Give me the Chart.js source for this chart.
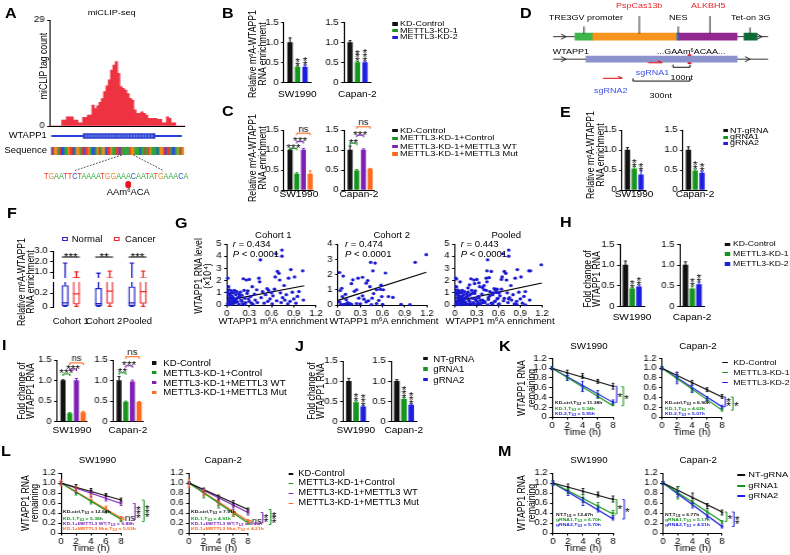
<!DOCTYPE html>
<html>
<head>
<meta charset="utf-8">
<title>WTAPP1 m6A figure</title>
<script src="https://cdn.jsdelivr.net/npm/chart.js@4.4.1/dist/chart.umd.min.js"></script>
<style>
  html, body { margin: 0; padding: 0; background: #fff; overflow: hidden; }
  #fig { position: relative; width: 687px; height: 555px; transform: scaleX(1.15); transform-origin: 0 0;
         font-family: 'Liberation Sans', Arial, sans-serif; color: #000; }
  #fig canvas { position: absolute; left: 0; top: 0; }
  #fig svg { position: absolute; left: 0; top: 0; }
  .t { position: absolute; white-space: nowrap; line-height: 1; text-align: center; }
  .sup { font-size: 0.62em; vertical-align: 0.5em; line-height: 0; }
  .sub { font-size: 0.7em; vertical-align: -0.25em; line-height: 0; }
</style>
</head>
<body>
<div id="fig"></div>
<script>
// ---------------- data ----------------
// A: miCLIP tag count per bin, gene model (in bin units), sequence
const clipCounts = [0, 0, 0, 0, 0, 1.6, 1.6, 2.5, 2.5, 2.5, 1.6, 1.6, 0.9, 0.9, 2.4,
  2.4, 3.0, 3.0, 5.7, 4.8, 5.5, 6.5, 7.5, 9.4, 11.0, 12.6, 15.3, 16.7, 17.6, 14.4,
  10.8, 10.3, 9.8, 8.9, 7.6, 7.1, 4.4, 3.5, 3.5, 3.9, 3.5, 3.0, 2.1, 2.1, 2.1,
  2.1, 1.8, 1.8, 0.9, 0.9, 2.5, 2.1, 0.9, 0.9, 0, 0, 0, 0];
const clipTicks = [0, 29];
const geneSpan = [0.7, 56.5];
const exonSpan = [14.3, 45.1];
const stripSeq = 'CTGGATCCAAGTTCAGGATCTTGACCAGTAGGCTTGAATTCTAAAATGGAAACAATATGAAACAGGTCTTACCAGATG';
const motifSeq = 'TGAATTCTAAAATGGAAACAATATGAAACA';

// shared labels
const cellLines = ['SW1990', 'Capan-2'];
const kdLabels = ['KD-Control', 'METTL3-KD-1', 'METTL3-KD-2'];
const rescueLabels = ['KD-Control', 'METTL3-KD-1+Control', 'METTL3-KD-1+METTL3 WT', 'METTL3-KD-1+METTL3 Mut'];
const grnaLabels = ['NT-gRNA', 'gRNA1', 'gRNA2'];

// B: m6A enrichment after METTL3 knockdown
const bSW = [1.0, 0.39, 0.39], bSWsd = [0.12, 0.03, 0.05], bSWstars = [0, 2, 2];
const bCap = [1.0, 0.5, 0.5], bCapSd = [0.05, 0.03, 0.04], bCapStars = [0, 3, 3];
// C: rescue
const cSW = [1.0, 0.4, 1.0, 0.4], cSWsd = [0.02, 0.03, 0.04, 0.08];
const cCap = [1.0, 0.48, 1.0, 0.52], cCapSd = [0.1, 0.03, 0.03, 0.02];
const cSWsig = [[1, 2, 1.04, '***'], [2, 3, 1.21, '***'], [2, 4, 1.42, 'ns']];
const cCapSig = [[1, 2, 1.17, '**'], [2, 3, 1.37, '***'], [2, 4, 1.58, 'ns']];
// D: construct / transcript segments (schematic units)
const dStart = [22, 40, 124, 126, 191];
const dEnd = [40, 124, 126, 184, 204];
const wtappBox = [33, 184];
const m6aSite = [135, 138];
const sg1 = [95, 109], sg2 = [50, 69];
const nt100 = [120, 137], nt300 = [80, 137];
// E: dm6ACRISPR
const eSW = [1.0, 0.53, 0.38], eSWsd = [0.06, 0.05, 0.1], eSWstars = [0, 2, 2];
const eCap = [1.0, 0.48, 0.42], eCapSd = [0.08, 0.04, 0.05], eCapStars = [0, 2, 2];
// F: box plots (Normal / Cancer)
const fGroups = ['Cohort 1', 'Cohort 2', 'Pooled'];
const normMin = [0.005, 0.005, 0.005], normQ1 = [0.02, 0.02, 0.02], normMed = [0.06, 0.05, 0.06], normQ3 = [0.31, 0.27, 0.29], normMax = [1.85, 0.9, 1.85];
const cancMin = [0.01, 0.01, 0.01], cancQ1 = [0.04, 0.05, 0.05], cancMed = [0.19, 0.23, 0.22], cancQ3 = [0.52, 0.48, 0.5], cancMax = [1.03, 1.1, 1.1];
const fSig = ['***', '**', '***'];
// G: scatter (m6A enrichment, RNA level x1e-4)
const cohort1 = [[0.01, 2.2], [0.02, 1.5], [0.03, 1.25], [0.01, 1.05], [0.02, 0.9], [0.04, 0.8], [0.03, 0.6], [0.05, 0.5],
  [0.02, 0.35], [0.04, 0.2], [0.01, 0.1], [0.06, 0.05], [0.03, 0.02], [0.08, 0.3], [0.07, 0.7], [0.09, 1.0], [0.1, 0.15],
  [0.11, 0.45], [0.12, 0.85], [0.13, 1.1], [0.14, 0.25], [0.15, 0.6], [0.16, 0.05], [0.18, 1.05], [0.19, 0.4], [0.2, 0.8],
  [0.21, 0.1], [0.22, 2.15], [0.23, 1.2], [0.24, 0.55], [0.25, 0.2], [0.26, 2.05], [0.27, 0.95], [0.28, 1.15], [0.3, 2.1],
  [0.3, 0.3], [0.32, 0.7], [0.34, 1.5], [0.35, 0.05], [0.37, 0.9], [0.38, 0.4], [0.4, 1.25], [0.41, 0.2], [0.43, 2.2],
  [0.44, 1.9], [0.45, 3.7], [0.46, 0.6], [0.48, 1.1], [0.5, 0.15], [0.52, 0.85], [0.54, 1.35], [0.55, 0.3], [0.56, 1.2],
  [0.58, 0.5], [0.6, 1.0], [0.61, 0.1], [0.62, 0.75], [0.64, 1.3], [0.65, 2.3], [0.66, 4.2], [0.67, 0.35], [0.68, 2.75],
  [0.7, 2.6], [0.71, 2.05], [0.72, 1.0], [0.73, 0.2], [0.74, 4.5], [0.74, 4.0], [0.75, 0.6], [0.77, 1.6], [0.78, 0.4],
  [0.8, 0.85], [0.82, 0.1], [0.83, 2.2], [0.85, 0.3], [0.86, 2.9], [0.88, 1.05], [0.9, 0.5], [0.91, 2.3], [0.93, 0.15],
  [0.95, 0.7], [0.97, 1.1], [1.02, 2.8], [1.03, 0.4], [0.08, 0.6], [0.05, 0.95], [0.12, 0.3], [0.17, 0.7], [0.06, 1.15],
  [0.1, 1.2], [0.02, 0.05], [0.05, 0.25], [0.07, 0.15], [0.09, 0.4], [0.13, 0.55], [0.16, 0.9], [0.2, 0.3], [0.24, 0.05],
  [0.29, 0.5], [0.33, 0.15]];
const cohort2 = [[0.02, 2.13], [0.07, 1.9], [0.05, 1.1], [0.03, 0.95], [0.06, 0.55], [0.11, 0.35], [0.02, 0.2], [0.04, 0.05],
  [0.08, 0.02], [0.12, 0.1], [0.15, 0.05], [0.2, 1.65], [0.25, 1.0], [0.27, 1.76], [0.33, 1.82], [0.38, 1.43], [0.43, 1.2],
  [0.44, 2.8], [0.5, 2.75], [0.47, 2.24], [0.52, 1.0], [0.57, 1.03], [0.61, 1.0], [0.64, 2.1], [0.68, 0.55], [0.74, 0.5],
  [0.59, 0.55], [0.52, 0.1], [0.38, 0.2], [0.25, 0.1], [0.16, 0.1], [0.97, 0.02], [1.04, 2.8], [1.19, 3.3], [0.09, 0.05],
  [0.13, 0.15], [0.18, 0.05], [0.3, 0.08], [0.35, 0.38], [0.41, 0.28], [0.46, 0.45], [0.1, 0.7], [0.22, 0.9], [0.28, 0.45],
  [0.55, 0.3], [0.6, 0.05], [0.45, 0.02], [0.33, 0.6], [0.18, 1.4], [0.4, 1.6], [0.58, 1.3], [0.48, 0.75], [0.85, 0.05]];
const pooled = cohort1.concat(cohort2);
const g1Fit = [0.38, 1.04, 1.58], g2Fit = [0.3, 1.19, 2.15], gpFit = [0.3, 1.2, 1.8]; // intercept, x end, y end
// H: RNA level after knockdown
const hSW = [1.0, 0.43, 0.48], hSWsd = [0.1, 0.02, 0.04], hSWstars = [0, 2, 2];
const hCap = [1.0, 0.43, 0.53], hCapSd = [0.08, 0.06, 0.06], hCapStars = [0, 2, 2];
// I: rescue RNA level
const iSW = [1.0, 0.2, 1.0, 0.22], iSWsd = [0.02, 0.02, 0.05, 0.03];
const iCap = [1.0, 0.48, 0.97, 0.47], iCapSd = [0.1, 0.02, 0.04, 0.02];
const iSWsig = [[1, 2, 1.16, '***'], [2, 3, 1.28, '***'], [2, 4, 1.43, 'ns']];
const iCapSig = [[1, 2, 1.19, '**'], [2, 3, 1.36, '***'], [2, 4, 1.58, 'ns']];
// J: gRNA RNA level
const jSW = [1.0, 0.47, 0.37], jSWsd = [0.07, 0.04, 0.02], jSWstars = [0, 2, 3];
const jCap = [1.0, 0.55, 0.41], jCapSd = [0.04, 0.04, 0.03], jCapStars = [0, 3, 3];
// K-M: RNA decay, time points in h
const times = [0, 2, 4, 6, 8];
const kSWctl = [1, 0.9, 0.84, 0.73, 0.63], kSWctlSd = [0.03, 0.06, 0.05, 0.04, 0.06];
const kSWkd1 = [1, 0.8, 0.58, 0.43, 0.26], kSWkd1Sd = [0.03, 0.05, 0.06, 0.05, 0.03];
const kSWkd2 = [1, 0.8, 0.63, 0.47, 0.31], kSWkd2Sd = [0.03, 0.05, 0.1, 0.07, 0.04];
const kSWfit = [0.63, 0.23, 0.3];
const kCapCtl = [1, 0.86, 0.7, 0.56, 0.42], kCapCtlSd = [0.03, 0.05, 0.05, 0.04, 0.04];
const kCapKd1 = [1, 0.78, 0.55, 0.35, 0.15], kCapKd1Sd = [0.03, 0.06, 0.05, 0.04, 0.03];
const kCapKd2 = [1, 0.8, 0.58, 0.38, 0.21], kCapKd2Sd = [0.03, 0.12, 0.07, 0.04, 0.03];
const kCapFit = [0.41, 0.14, 0.21];
const lSWctl = [1, 0.93, 0.85, 0.76, 0.66], lSWctlSd = [0.03, 0.04, 0.04, 0.03, 0.04];
const lSWkd = [1, 0.79, 0.62, 0.43, 0.26], lSWkdSd = [0.03, 0.03, 0.04, 0.03, 0.03];
const lSWwt = [1, 0.85, 0.77, 0.68, 0.59], lSWwtSd = [0.03, 0.04, 0.05, 0.04, 0.04];
const lSWmut = [1, 0.88, 0.72, 0.5, 0.3], lSWmutSd = [0.06, 0.05, 0.05, 0.04, 0.03];
const lSWfit = [0.66, 0.27, 0.59, 0.3];
const lCapCtl = [1, 0.86, 0.7, 0.6, 0.46], lCapCtlSd = [0.03, 0.04, 0.06, 0.05, 0.04];
const lCapKd = [1, 0.75, 0.55, 0.37, 0.2], lCapKdSd = [0.03, 0.05, 0.05, 0.04, 0.03];
const lCapWt = [1, 0.84, 0.66, 0.52, 0.4], lCapWtSd = [0.03, 0.04, 0.05, 0.05, 0.04];
const lCapMut = [1, 0.8, 0.6, 0.38, 0.24], lCapMutSd = [0.08, 0.06, 0.04, 0.04, 0.03];
const lCapFit = [0.47, 0.2, 0.41, 0.24];
const mSWnt = [1, 0.92, 0.83, 0.77, 0.68], mSWntSd = [0.04, 0.06, 0.06, 0.05, 0.06];
const mSWg1 = [1, 0.84, 0.69, 0.55, 0.4], mSWg1Sd = [0.04, 0.05, 0.08, 0.06, 0.05];
const mSWg2 = [1, 0.8, 0.63, 0.47, 0.3], mSWg2Sd = [0.04, 0.05, 0.08, 0.05, 0.04];
const mSWfit = [0.67, 0.38, 0.28];
const mCapNt = [1, 0.85, 0.7, 0.54, 0.41], mCapNtSd = [0.03, 0.08, 0.1, 0.05, 0.05];
const mCapG1 = [1, 0.8, 0.6, 0.42, 0.22], mCapG1Sd = [0.03, 0.12, 0.05, 0.04, 0.03];
const mCapG2 = [1, 0.78, 0.55, 0.32, 0.13], mCapG2Sd = [0.03, 0.06, 0.05, 0.04, 0.03];
const mCapFit = [0.42, 0.23, 0.13];

// ---------------- setup ----------------
const SX = 1.15, CW = 687, CH = 555;
const FONT = "'Liberation Sans', Arial, sans-serif";
const sx = v => v / SX;
const fig = document.getElementById('fig');

const BLACK = '#111111', GREEN = '#16951e', BLUE = '#1e1ee0', PURPLE = '#7f22b4', ORANGE = '#ff6a1f', RED = '#ee3342';
const C3 = [BLACK, GREEN, BLUE], C4 = [BLACK, GREEN, PURPLE, ORANGE];
const NORM = '#2525c8', CANC = '#ee2b2b', DOT = '#1a1ad0', SGBLUE = '#3b4fe6';

Chart.defaults.font.family = FONT;
Chart.defaults.font.size = 8.3;
Chart.defaults.color = '#000';
Chart.defaults.animation = false;
Chart.defaults.events = [];
Chart.defaults.plugins.legend.display = false;
Chart.defaults.plugins.tooltip.enabled = false;

function make(cfg, area, yW, xH) {
  const o = cfg.options;
  o.responsive = false;
  o.devicePixelRatio = 1;
  o.layout = { padding: { left: sx(area[0]) - yW, top: area[1], right: CW - sx(area[2]), bottom: CH - area[3] - xH } };
  o.scales.x.afterFit = s => { s.height = xH; };
  o.scales.y.afterFit = s => { s.width = yW; };
  const c = document.createElement('canvas');
  c.width = CW; c.height = CH;
  c.style.width = CW + 'px'; c.style.height = CH + 'px';
  fig.appendChild(c);
  return new Chart(c, cfg);
}

function T(x, y, html, o) {
  o = o || {};
  const d = document.createElement('div');
  d.className = 't';
  d.innerHTML = html;
  d.style.left = sx(x) + 'px';
  d.style.top = y + 'px';
  d.style.fontSize = (o.s || 8) + 'px';
  if (o.c) d.style.color = o.c;
  if (o.b) d.style.fontWeight = 'bold';
  if (o.lh) d.style.lineHeight = o.lh;
  let tr = o.a === 'c' ? 'translate(-50%,-50%)' : o.a === 'r' ? 'translate(-100%,-50%)' : 'translate(0,-50%)';
  if (o.rot) tr += ' rotate(-90deg)';
  if (o.scx) tr += ' scaleX(' + o.scx + ')';
  d.style.transform = tr;
  fig.appendChild(d);
  return d;
}

function box(x, y, w, h, css) {
  const d = document.createElement('div');
  d.style.cssText = 'position:absolute;left:' + sx(x) + 'px;top:' + y + 'px;width:' + sx(w) + 'px;height:' + h + 'px;' + css;
  fig.appendChild(d);
}

function legend(xm, wm, xt, ys, labels, colors, kind, size) {
  labels.forEach((lab, i) => {
    const h = kind === 'line' ? 1.4 : 3.4;
    box(xm, ys[i] - h / 2, wm, h, 'background:' + colors[i]);
    T(xt, ys[i], lab, { s: size });
  });
}

const f1 = v => (v === 0 ? '0' : v.toFixed(1));
function yAxis(min, max, step, fmt, vals) {
  const ax = {
    type: 'linear', min, max,
    ticks: { stepSize: step, autoSkip: false, padding: 2.2, color: '#000', callback: fmt || f1 },
    grid: { drawOnChartArea: false, tickLength: 2.5, color: '#000', lineWidth: 1 },
    border: { color: '#000', width: 1 }
  };
  if (vals) ax.afterBuildTicks = s => { s.ticks = vals.map(v => ({ value: v })); };
  return ax;
}

function ln(ctx, x1, y1, x2, y2, c, w) {
  ctx.beginPath(); ctx.moveTo(x1, y1); ctx.lineTo(x2, y2);
  ctx.strokeStyle = c; ctx.lineWidth = w || 1; ctx.stroke();
}
function starStack(ctx, x, yBottom, n) {
  ctx.font = '10.5px ' + FONT; ctx.fillStyle = '#000'; ctx.textAlign = 'center'; ctx.textBaseline = 'alphabetic';
  for (let k = 0; k < n; k++) ctx.fillText('*', x, yBottom + 4.5 - k * 3.8);
}
function sigText(ctx, s, x, yBottom) {
  ctx.fillStyle = '#000'; ctx.textAlign = 'center'; ctx.textBaseline = 'alphabetic';
  if (s === 'ns') { ctx.font = '8.2px ' + FONT; ctx.fillText(s, x, yBottom - 0.6); }
  else { ctx.font = '10.5px ' + FONT; ctx.fillText(s, x, yBottom + 4.3); }
}
function vBracket(ctx, xr, y1, y2, color, txt) {
  ln(ctx, xr, y1, xr, y2, color, 1);
  ln(ctx, xr - sx(2), y1, xr, y1, color, 1);
  ln(ctx, xr - sx(2), y2, xr, y2, color, 1);
  const mid = (y1 + y2) / 2;
  if (txt === 'ns') {
    ctx.font = '8.2px ' + FONT; ctx.fillStyle = '#000'; ctx.textAlign = 'left'; ctx.textBaseline = 'middle';
    ctx.fillText('ns', xr + 0.8, mid);
  } else {
    starStack(ctx, xr + sx(3.2), mid + txt.length * 1.9, txt.length);
  }
}

// ---------------- bar panels (B, C, E, H, I, J) ----------------
function barPanel(area, vals, sds, colors, stars, sig, title, titleY, bw) {
  const n = vals.length;
  const cfg = {
    type: 'bar',
    data: { datasets: [{ data: vals.map((v, i) => ({ x: i + 1, y: v })), backgroundColor: colors, barThickness: sx(bw), borderWidth: 0 }] },
    options: { scales: {
      x: { type: 'linear', offset: false, min: n === 4 ? 0.1 : 0.2, max: n === 4 ? 4.55 : 3.75,
           ticks: { display: false }, grid: { display: false }, border: { color: '#000' } },
      y: yAxis(0, 1.5, 0.5)
    } },
    plugins: [{ id: 'barDeco', afterDatasetsDraw(ch) {
      const ctx = ch.ctx, X = ch.scales.x, Y = ch.scales.y;
      ctx.save();
      vals.forEach((v, i) => {
        const x = X.getPixelForValue(i + 1), y0 = Y.getPixelForValue(v), y1 = Y.getPixelForValue(v + sds[i]);
        ln(ctx, x, y0, x, y1, colors[i], 1);
        ln(ctx, x - 1.3, y1, x + 1.3, y1, colors[i], 1);
        if (stars[i]) starStack(ctx, x, y1 - 0.8, stars[i]);
      });
      sig.forEach(b => {
        const x1 = X.getPixelForValue(b[0]), x2 = X.getPixelForValue(b[1]), y = Y.getPixelForValue(b[2]);
        const c = colors[b[1] - 1];
        ln(ctx, x1, y, x2, y, c, 1.1);
        ln(ctx, x1, y, x1, y + 2, c, 1.1);
        ln(ctx, x2, y, x2, y + 2, c, 1.1);
        sigText(ctx, b[3], (x1 + x2) / 2, y - 0.8);
      });
      ctx.restore();
    } }]
  };
  T((area[0] + area[2]) / 2, titleY, title, { a: 'c', s: 8.8 });
  return make(cfg, area, 22, 0);
}

// ---------------- decay panels (K, L, M) ----------------
function decayPanel(area, means, sds, fits, colors, brackets, titleY) {
  const datasets = [];
  means.forEach((m, k) => {
    datasets.push({ type: 'line', data: [{ x: times[0], y: m[0] }, { x: times[times.length - 1], y: fits[k] }],
      borderColor: colors[k], borderWidth: 1.1, pointRadius: 0, clip: false });
    datasets.push({ type: 'scatter', data: times.map((t, i) => ({ x: t, y: m[i] })),
      pointRadius: 1.1, pointBackgroundColor: colors[k], pointBorderWidth: 0, clip: false });
  });
  const cfg = {
    type: 'scatter',
    data: { datasets },
    options: { scales: {
      x: { type: 'linear', min: 0, max: 8,
           ticks: { stepSize: 2, autoSkip: false, padding: 1, color: '#000', maxRotation: 0 },
           grid: { drawOnChartArea: false, tickLength: 2.5, color: '#000' },
           border: { color: '#000' },
           title: { display: true, text: 'Time (h)', padding: 0, font: { size: 8.8 }, color: '#000' } },
      y: yAxis(0, 1.2, 0.2)
    } },
    plugins: [{ id: 'decayDeco', afterDatasetsDraw(ch) {
      const ctx = ch.ctx, X = ch.scales.x, Y = ch.scales.y, ca = ch.chartArea;
      ctx.save();
      means.forEach((m, k) => m.forEach((v, i) => {
        const x = X.getPixelForValue(times[i]);
        const a = Y.getPixelForValue(v + sds[k][i]), b = Y.getPixelForValue(v - sds[k][i]);
        ln(ctx, x, a, x, b, colors[k], 0.9);
        ln(ctx, x - 1.2, a, x + 1.2, a, colors[k], 0.9);
        ln(ctx, x - 1.2, b, x + 1.2, b, colors[k], 0.9);
      }));
      brackets.forEach(v => vBracket(ctx, ca.right + sx(v[2]), Y.getPixelForValue(v[0]), Y.getPixelForValue(v[1]), v[3], v[4]));
      ctx.restore();
    } }]
  };
  return make(cfg, area, 22, titleY + 5.3 - area[3]);
}

// ---------------- scatter panels (G) ----------------
function scatterPanel(area, pts, yMax, fit) {
  const cfg = {
    type: 'scatter',
    data: { datasets: [
      { data: pts.map(p => ({ x: p[0], y: p[1] })), pointRadius: 1.6, pointBackgroundColor: DOT, pointBorderWidth: 0, clip: false },
      { type: 'line', data: [{ x: 0, y: fit[0] }, { x: fit[1], y: fit[2] }], borderColor: '#000', borderWidth: 1.2, pointRadius: 0 }
    ] },
    options: { scales: {
      x: { type: 'linear', min: 0, max: 1.2,
           ticks: { stepSize: 0.3, autoSkip: false, padding: 1, color: '#000', maxRotation: 0, callback: v => (v === 0 ? '0' : v.toFixed(1)) },
           grid: { drawOnChartArea: false, tickLength: 2.5, color: '#000' },
           border: { color: '#000' } },
      y: yAxis(0, yMax, 1, v => String(v))
    } }
  };
  T((area[0] + area[2]) / 2 + 1.5, 321, 'WTAPP1 m<span class="sup">6</span>A enrichment', { a: 'c', s: 8.4 });
  return make(cfg, area, 22, 14);
}

// ---------------- box panels (F, broken axis) ----------------
function boxPanel(area, yMin, yMax, tickVals, fmt, lower) {
  const pos = fGroups.map((g, i) => i + 1);
  const sets = [[normMin, normQ1, normMed, normQ3, normMax, -0.17, NORM], [cancMin, cancQ1, cancMed, cancQ3, cancMax, 0.17, CANC]];
  const cfg = {
    type: 'bar',
    data: { datasets: sets.map(s => ({
      data: pos.map((p, i) => ({ x: p + s[5], y: [s[1][i], s[3][i]] })),
      backgroundColor: '#fff', borderColor: s[6], borderWidth: 1.3, borderSkipped: false,
      barThickness: sx(6.5), grouped: false, clip: 0 })) },
    options: { scales: {
      x: { type: 'linear', offset: false, min: 0.467, max: 3.375, display: false },
      y: yAxis(yMin, yMax, 1, fmt, tickVals)
    } },
    plugins: [{ id: 'whiskers', afterDatasetsDraw(ch) {
      const ctx = ch.ctx, X = ch.scales.x, Y = ch.scales.y, ca = ch.chartArea;
      ctx.save();
      ctx.beginPath(); ctx.rect(ca.left, ca.top, ca.width, ca.height); ctx.clip();
      sets.forEach(s => pos.forEach((p, i) => {
        const x = X.getPixelForValue(p + s[5]), h = sx(2.2), hm = sx(3.25);
        const yMn = Y.getPixelForValue(s[0][i]), yQ1 = Y.getPixelForValue(s[1][i]), yMd = Y.getPixelForValue(s[2][i]);
        const yQ3 = Y.getPixelForValue(s[3][i]), yMx = Y.getPixelForValue(s[4][i]);
        ln(ctx, x, yMx, x, yQ3, s[6], 1.3);
        ln(ctx, x, yQ1, x, yMn, s[6], 1.3);
        ln(ctx, x - h, yMx, x + h, yMx, s[6], 1.3);
        ln(ctx, x - h, yMn, x + h, yMn, s[6], 1.3);
        ln(ctx, x - hm, yMd, x + hm, yMd, s[6], 1.3);
      }));
      ctx.restore();
      if (!lower) {
        ctx.save();
        pos.forEach((p, i) => {
          const x1 = X.getPixelForValue(p - 0.27), x2 = X.getPixelForValue(p + 0.27), y = Y.getPixelForValue(2.43);
          ln(ctx, x1, y, x2, y, '#000', 1);
          sigText(ctx, fSig[i], (x1 + x2) / 2, y - 0.8);
        });
        ctx.restore();
      }
    } }]
  };
  return make(cfg, area, 22, 0);
}

// ================= Panel A =================
make({
  type: 'bar',
  data: { labels: clipCounts.map((v, i) => i), datasets: [{ data: clipCounts, backgroundColor: RED, barPercentage: 1, categoryPercentage: 1, borderWidth: 0 }] },
  options: { scales: {
    x: { ticks: { display: false }, grid: { display: false }, border: { color: '#000' } },
    y: yAxis(0, 29, 29, v => String(v), clipTicks)
  } }
}, [50, 20, 185, 126], 22, 0);

make({
  type: 'bar',
  data: { labels: ['WTAPP1'], datasets: [
    { data: [geneSpan], backgroundColor: '#2a3fd6', barThickness: 1.2, grouped: false },
    { data: [exonSpan], backgroundColor: '#2a3fd6', barThickness: 4.6, grouped: false }
  ] },
  options: { indexAxis: 'y', scales: { x: { type: 'linear', min: 0, max: clipCounts.length, display: false }, y: { display: false } } },
  plugins: [{ id: 'chevrons', afterDatasetsDraw(ch) {
    const ctx = ch.ctx, X = ch.scales.x, y = ch.scales.y.getPixelForValue(0);
    const a = X.getPixelForValue(exonSpan[0]) + 2, b = X.getPixelForValue(exonSpan[1]) - 2;
    ctx.save();
    for (let x = a; x < b; x += 2.6) {
      ctx.beginPath(); ctx.moveTo(x, y - 1.3); ctx.lineTo(x + 0.9, y); ctx.lineTo(x, y + 1.3);
      ctx.strokeStyle = '#d8defa'; ctx.lineWidth = 0.6; ctx.stroke();
    }
    ctx.restore();
  } }]
}, [50, 131, 185, 141], 0, 0);

const baseColor = { A: '#2fa83c', C: '#2a4fe0', G: '#f08c1e', T: '#ec3a2e' };
const stripBases = stripSeq.split('');
make({
  type: 'bar',
  data: { labels: stripBases.map((b, i) => i), datasets: [{ data: stripBases.map(() => 1), backgroundColor: stripBases.map(b => baseColor[b]), barPercentage: 1, categoryPercentage: 1, borderWidth: 0 }] },
  options: { scales: { x: { display: false }, y: { display: false, min: 0, max: 1 } } }
}, [51, 147, 184, 155], 0, 0);

// connectors from strip to zoomed sequence
const svgNS = 'http://www.w3.org/2000/svg';
const svg = document.createElementNS(svgNS, 'svg');
svg.setAttribute('width', CW); svg.setAttribute('height', CH);
[[121.7, 155, 75, 170.5], [133.3, 155, 163.3, 170.5]].forEach(c => {
  const l = document.createElementNS(svgNS, 'line');
  l.setAttribute('x1', sx(c[0])); l.setAttribute('y1', c[1]); l.setAttribute('x2', sx(c[2])); l.setAttribute('y2', c[3]);
  l.setAttribute('stroke', '#333'); l.setAttribute('stroke-width', '0.8'); l.setAttribute('stroke-dasharray', '1.6,1.2');
  svg.appendChild(l);
});
fig.appendChild(svg);

T(111.7, 13.3, 'miCLIP-seq', { a: 'c' });
T(46.7, 136, 'WTAPP1', { a: 'r', s: 8.2 });
T(47, 150.7, 'Sequence', { a: 'r', s: 8.2 });
T(116.5, 176.5, motifSeq.split('').map(b => '<span style="color:' + baseColor[b] + '">' + b + '</span>').join(''), { a: 'c', s: 9.2, scx: 0.69 });
box(125, 181, 6.6, 6.6, 'background:#e8141c;border-radius:50%');
T(128.3, 193.3, 'AAm<span class="sup">6</span>ACA', { a: 'c', s: 8.2 });

// ================= Panel B / C =================
barPanel([284, 22.7, 310.6, 82.7], bSW, bSWsd, C3, bSWstars, [], cellLines[0], 94.3, 4.5);
barPanel([344, 22.7, 370.6, 82.7], bCap, bCapSd, C3, bCapStars, [], cellLines[1], 94.3, 4.5);
legend(392.7, 4.7, 400, [24, 30.7, 37.3], kdLabels, C3, 'sq', 7.8);

barPanel([284, 130, 313.8, 190], cSW, cSWsd, C4, [0, 0, 0, 0], cSWsig, cellLines[0], 194.3, 4.3);
barPanel([344, 130, 373.8, 190], cCap, cCapSd, C4, [0, 0, 0, 0], cCapSig, cellLines[1], 194.3, 4.3);
legend(392.7, 4.7, 400, [130.7, 138.3, 146.7, 154], rescueLabels, C4, 'sq', 8);

// ================= Panel D =================
const dColors = ['#3fb44b', '#f7941e', '#1d74bb', '#92278f', '#0e6b38'];
make({
  type: 'bar',
  data: { datasets: [
    { data: dStart.map((s, i) => ({ x: [s, dEnd[i]], y: 34 })), backgroundColor: dColors, barThickness: 7, grouped: false },
    { data: [{ x: wtappBox, y: 61 }], backgroundColor: '#8b92cc', barThickness: 6, grouped: false },
    { data: [{ x: m6aSite, y: 61 }], backgroundColor: '#e8141c', barThickness: 9, grouped: false }
  ] },
  options: { indexAxis: 'y', scales: {
    x: { type: 'linear', min: 0, max: 215, display: false },
    y: { type: 'linear', min: 0, max: 100, reverse: true, display: false }
  } },
  plugins: [{ id: 'schematic',
    beforeDatasetsDraw(ch) {
      const ctx = ch.ctx, X = ch.scales.x, Y = ch.scales.y;
      ctx.save();
      [34, 61].forEach(r => ln(ctx, X.getPixelForValue(0), Y.getPixelForValue(r), X.getPixelForValue(215), Y.getPixelForValue(r), '#333', 1));
      ctx.restore();
    },
    afterDatasetsDraw(ch) {
      const ctx = ch.ctx, X = ch.scales.x, Y = ch.scales.y;
      const P = (x, y) => [X.getPixelForValue(x), Y.getPixelForValue(y)];
      ctx.save();
      [[13, 34], [209, 34], [13, 61], [197, 61]].forEach(a => {
        const [x, y] = P(a[0], a[1]);
        ctx.beginPath(); ctx.moveTo(x - sx(5), y - 2.6); ctx.lineTo(x, y); ctx.lineTo(x - sx(5), y + 2.6);
        ctx.strokeStyle = '#222'; ctx.lineWidth = 1; ctx.stroke();
      });
      [[31, 21.7], [86.3, 9.3], [125.3, 21.7], [157, 9.3], [197, 23]].forEach(c => {
        const [x, y1] = P(c[0], c[1]); const y2 = Y.getPixelForValue(30.5);
        ln(ctx, x, y1, x, y2, '#333', 1);
      });
      [[sg1, 65.3], [sg2, 84]].forEach(s => {
        const [x1, y] = P(s[0][0], s[1]); const x2 = X.getPixelForValue(s[0][1]);
        ln(ctx, x1, y, x2, y, '#e8141c', 1.1);
        ln(ctx, x2 - sx(4), y - 2, x2, y, '#e8141c', 1.1);
      });
      [[nt100, 70.7], [nt300, 87.3]].forEach(b => {
        const [x1, y] = P(b[0][0], b[1]); const x2 = X.getPixelForValue(b[0][1]);
        ln(ctx, x1, y, x2, y, '#111', 1);
        ln(ctx, x1, y, x1, y - 2.6, '#111', 1);
        ln(ctx, x2, y, x2, y - 2.6, '#111', 1);
      });
      ctx.restore();
    } }]
}, [553, 0, 768, 100], 0, 0);

T(585.8, 18.3, 'TRE3GV promoter', { a: 'c', s: 7.8 });
T(639.2, 6, 'PspCas13b', { a: 'c', c: '#e8262b', s: 7.8 });
T(678.3, 18.3, 'NES', { a: 'c', s: 7.8 });
T(708.3, 6, 'ALKBH5', { a: 'c', c: '#e8262b', s: 7.8 });
T(750.8, 18.3, 'Tet-on 3G', { a: 'c', s: 7.8 });
T(552.7, 51.7, 'WTAPP1', { s: 7.8 });
T(656.7, 51.7, '...GAAm<span class="sup">6</span>ACAA...', { s: 7.8 });
T(652.5, 72.7, 'sgRNA1', { a: 'c', c: SGBLUE, s: 7.8 });
T(681.7, 78.3, '100nt', { a: 'c', s: 7.8 });
T(610.8, 90.7, 'sgRNA2', { a: 'c', c: SGBLUE, s: 7.8 });
T(660.8, 95.7, '300nt', { a: 'c', s: 7.8 });

// ================= Panel E =================
barPanel([622, 130, 646.1, 190], eSW, eSWsd, C3, eSWstars, [], cellLines[0], 194.3, 4.5);
barPanel([683, 130, 707.1, 190], eCap, eCapSd, C3, eCapStars, [], cellLines[1], 194.3, 4.5);
legend(723.3, 4.7, 730, [130.7, 137.3, 143.3], grnaLabels, C3, 'sq', 7.8);

// ================= Panel F =================
boxPanel([53, 251, 150, 278], 0.45, 3.0, [1, 2, 3], v => v.toFixed(1), false);
boxPanel([53, 282, 150, 307], 0, 0.36, [0, 0.2], f1, true);
[70.8, 104.1, 137.4].forEach((x, i) => T(x, 322, fGroups[i], { a: 'c', s: 8.2 }));
box(61.7, 237.3, 6.6, 3.4, 'border:1.2px solid ' + NORM + ';box-sizing:border-box');
T(71.7, 239, 'Normal', { s: 8.3 });
box(113.3, 237.3, 6.6, 3.4, 'border:1.2px solid ' + CANC + ';box-sizing:border-box');
T(125, 239, 'Cancer', { s: 8.3 });

// ================= Panel G =================
scatterPanel([227, 244, 316, 305], cohort1, 5, g1Fit);
scatterPanel([338, 244, 427, 305], cohort2, 4, g2Fit);
scatterPanel([455, 244, 542, 305], pooled, 5, gpFit);
T(273.3, 235, 'Cohort 1', { a: 'c', s: 8.3 });
T(391.7, 235, 'Cohort 2', { a: 'c', s: 8.3 });
T(506.3, 235, 'Pooled', { a: 'c', s: 8.3 });
[[232.7, '0.434'], [345, '0.474'], [460.7, '0.443']].forEach(r => {
  T(r[0], 244.3, '<i>r</i> = ' + r[1], { s: 8.3 });
  T(r[0], 254.3, '<i>P</i> &lt; 0.0001', { s: 8.3 });
});

// ================= Panel H =================
barPanel([620, 244.3, 644.1, 306.7], hSW, hSWsd, C3, hSWstars, [], cellLines[0], 316.7, 4.8);
barPanel([680, 244.3, 704.1, 306.7], hCap, hCapSd, C3, hCapStars, [], cellLines[1], 316.7, 4.8);
legend(725, 5, 733, [244.3, 254, 264], kdLabels, C3, 'sq', 7.5);

// ================= Panel I =================
barPanel([57, 360, 86.8, 421.7], iSW, iSWsd, C4, [0, 0, 0, 0], iSWsig, cellLines[0], 430, 4.3);
barPanel([113, 360, 142.8, 421.7], iCap, iCapSd, C4, [0, 0, 0, 0], iCapSig, cellLines[1], 430, 4.3);
legend(151.7, 5, 163.3, [363, 372.7, 382.7, 392.3], rescueLabels, C4, 'sq', 8.4);

// ================= Panel J =================
barPanel([343, 361, 368.6, 421.7], jSW, jSWsd, C3, jSWstars, [], cellLines[0], 429.5, 4.8);
barPanel([391, 361, 416.6, 421.7], jCap, jCapSd, C3, jCapStars, [], cellLines[1], 429.5, 4.8);
legend(423.3, 5, 433.3, [358.5, 369, 379.5], grnaLabels, C3, 'sq', 8.4);

// ================= Panel K =================
decayPanel([552, 358.4, 613, 417], [kSWctl, kSWkd1, kSWkd2], [kSWctlSd, kSWkd1Sd, kSWkd2Sd], kSWfit, C3,
  [[0.63, 0.3, 3.7, BLUE, '*'], [0.62, 0.23, 10.3, GREEN, '*']], 433);
decayPanel([662, 358.4, 722, 417], [kCapCtl, kCapKd1, kCapKd2], [kCapCtlSd, kCapKd1Sd, kCapKd2Sd], kCapFit, C3,
  [[0.41, 0.21, 3.3, BLUE, '**'], [0.41, 0.14, 11, GREEN, '*']], 433);
legend(721.7, 6.7, 733.3, [362.5, 372.5, 382.5], kdLabels, C3, 'line', 7.6);

// ================= Panel L =================
decayPanel([61, 473, 121, 533], [lSWctl, lSWkd, lSWwt, lSWmut], [lSWctlSd, lSWkdSd, lSWwtSd, lSWmutSd], lSWfit, C4,
  [[0.31, 0.26, 3, ORANGE, 'ns'], [0.59, 0.26, 14, PURPLE, '***'], [0.66, 0.23, 23, GREEN, '***']], 548.3);
decayPanel([189, 473, 248, 533], [lCapCtl, lCapKd, lCapWt, lCapMut], [lCapCtlSd, lCapKdSd, lCapWtSd, lCapMutSd], lCapFit, C4,
  [[0.25, 0.2, 3, ORANGE, 'ns'], [0.41, 0.2, 14.7, PURPLE, '**'], [0.47, 0.17, 22.7, GREEN, '***']], 548.3);
legend(288.3, 5, 298.3, [474, 483.3, 493.3, 503.3], rescueLabels, C4, 'line', 8.2);

// ================= Panel M =================
decayPanel([553, 473, 613, 533], [mSWnt, mSWg1, mSWg2], [mSWntSd, mSWg1Sd, mSWg2Sd], mSWfit, C3,
  [[0.67, 0.38, 3.7, GREEN, '*'], [0.67, 0.28, 11.3, BLUE, '*']], 548.3);
decayPanel([663, 473, 722, 533], [mCapNt, mCapG1, mCapG2], [mCapNtSd, mCapG1Sd, mCapG2Sd], mCapFit, C3,
  [[0.42, 0.23, 4.7, GREEN, '*'], [0.42, 0.13, 12, BLUE, '**']], 548.3);
legend(736.7, 8.3, 748.3, [475, 486, 496], grnaLabels, C3, 'line', 8.1);

// half-life annotations
const half = (name, v) => name + ',T<span class="sub">1/2</span> = ' + v + 'h';
const tiny = (x, y, html, c) => T(x, y, html, { s: 4.4, b: true, c });
[[555, 665, ['KD-ctrl', 'KD-1', 'KD-2'], ['11.38', '5.34', '5.95'], ['6.90', '4.62', '5.07'], [403, 409, 414], C3],
 [63, 191, ['KD-ctrl', 'KD-1', 'KD-1+METTL3 WT', 'KD-1+METTL3 Mut'], ['12.64', '5.38', '9.88', '5.93'], ['7.91', '4.91', '6.46', '4.21'], [511.7, 518.5, 524, 529], C4],
 [556, 665, ['NT', 'gRNA1', 'gRNA2'], ['12.47', '6.70', '5.70'], ['6.77', '5.17', '4.51'], [515, 520, 524.5], C3]
].forEach(g => g[2].forEach((nm, i) => {
  tiny(g[0], g[5][i], half(nm, g[3][i]), g[6][i]);
  tiny(g[1], g[5][i], half(nm, g[4][i]), g[6][i]);
}));

// ================= titles, y-axis titles, panel letters =================
[[589, 345.7, cellLines[0]], [698, 345.7, cellLines[1]], [97.5, 460, cellLines[0]], [223.3, 460, cellLines[1]],
 [589, 460, cellLines[0]], [698.3, 460, cellLines[1]]].forEach(t => T(t[0], t[1], t[2], { a: 'c', s: 8.5 }));

const m6A = 'm<span class="sup">6</span>A';
const relTitle = 'Relative ' + m6A + '-WTAPP1<br>RNA enrichment';
const foldTitle = 'Fold change of<br>WTAPP1 RNA';
const remTitle = 'WTAPP1 RNA<br>remaining';
const YT = (x, y, html) => T(x, y, html, { a: 'c', rot: true, s: 8.7, lh: 0.93 });
YT(43.5, 66, 'miCLIP tag count');
YT(257.8, 53.5, relTitle);
YT(257.8, 158, relTitle);
YT(595.8, 155, relTitle);
YT(26.7, 282, relTitle);
YT(203.3, 276, 'WTAPP1 RNA level<br>(\u00d710<span class="sup">-4</span>)');
YT(592, 279, foldTitle);
YT(26.7, 391, foldTitle);
YT(316.3, 391, foldTitle);
YT(526.7, 388, remTitle);
YT(30, 503, remTitle);
YT(526.7, 503, remTitle);

[[5, 13, 'A'], [222, 12.5, 'B'], [222, 111, 'C'], [520, 13, 'D'], [560, 112, 'E'], [7, 212.5, 'F'], [175, 223, 'G'],
 [560, 222, 'H'], [2, 345, 'I'], [295, 346, 'J'], [499, 346, 'K'], [1, 451, 'L'], [498, 451, 'M']]
  .forEach(l => T(l[0], l[1], l[2], { s: 14, b: true }));
</script>
</body>
</html>
